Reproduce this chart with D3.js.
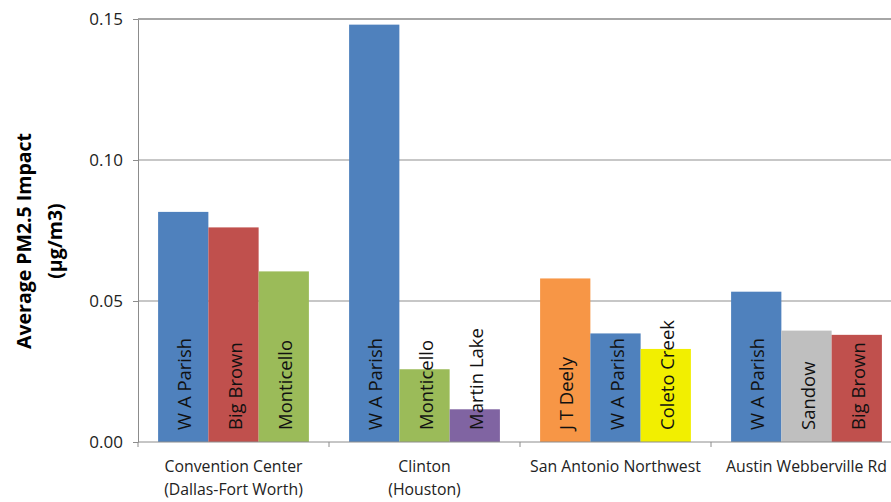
<!DOCTYPE html>
<html>
<head>
<meta charset="utf-8">
<script src="https://cdn.jsdelivr.net/npm/d3@7"></script>
<style>
  html, body { margin: 0; padding: 0; background: #fff; }
  svg { display: block; font-family: "Open Sans", sans-serif; }
</style>
</head>
<body>
<svg id="chart" width="891" height="502"></svg>
<script>
// ---- Data ----
const categories = ["Convention Center|(Dallas-Fort Worth)", "Clinton|(Houston)", "San Antonio Northwest", "Austin Webberville Rd"];
const plantsConvention = ["W A Parish", "Big Brown", "Monticello"];
const valuesConvention = [0.0816, 0.0761, 0.0605];
const plantsClinton = ["W A Parish", "Monticello", "Martin Lake"];
const valuesClinton = [0.148, 0.0258, 0.0116];
const plantsSanAntonio = ["J T Deely", "W A Parish", "Coleto Creek"];
const valuesSanAntonio = [0.058, 0.0385, 0.033];
const plantsAustin = ["W A Parish", "Sandow", "Big Brown"];
const valuesAustin = [0.0533, 0.0395, 0.038];
const yTicks = [0, 0.05, 0.10, 0.15];
const plantNames = ["W A Parish", "Big Brown", "Monticello", "Martin Lake", "J T Deely", "Coleto Creek", "Sandow"];

const groups = [
  { cat: categories[0], plants: plantsConvention, values: valuesConvention },
  { cat: categories[1], plants: plantsClinton, values: valuesClinton },
  { cat: categories[2], plants: plantsSanAntonio, values: valuesSanAntonio },
  { cat: categories[3], plants: plantsAustin, values: valuesAustin }
];

// ---- Layout ----
const svg = d3.select("#chart");
const mLeft = 138, mRight = 902, mTop = 19, mBottom = 442;

const x = d3.scaleBand().domain(categories).range([mLeft, mRight]).paddingInner(0).paddingOuter(0);
const xi = d3.scaleBand().domain([0, 1, 2]).range([0, x.bandwidth()]).paddingInner(0).paddingOuter(0.4);
const y = d3.scaleLinear().domain([0, 0.15]).range([mBottom, mTop]);
const color = d3.scaleOrdinal().domain(plantNames)
  .range(["#4f81bd", "#c0504d", "#9bbb59", "#8064a2", "#f79646", "#f2ef00", "#bfbfbf"]);

// gridlines
svg.append("g").selectAll("line").data(yTicks.filter(d => d > 0)).join("line")
  .attr("x1", mLeft).attr("x2", mRight)
  .attr("y1", d => y(d)).attr("y2", d => y(d))
  .attr("stroke", d => d === 0.15 ? "#a6a6a6" : "#b4b4b4")
  .attr("stroke-width", d => d === 0.15 ? 2 : 1.3);

// bars
const flat = [];
groups.forEach(g => g.values.forEach((v, i) => flat.push({ cat: g.cat, i, v, plant: g.plants[i] })));

svg.append("g").selectAll("rect").data(flat).join("rect")
  .attr("x", d => x(d.cat) + xi(d.i))
  .attr("width", xi.bandwidth())
  .attr("y", d => y(d.v))
  .attr("height", d => y(0) - y(d.v))
  .attr("fill", d => color(d.plant));

// bar labels
svg.append("g").selectAll("text").data(flat).join("text")
  .attr("transform", d => `translate(${x(d.cat) + xi(d.i) + xi.bandwidth() / 2 + 8},${mBottom - 12}) rotate(-90)`)
  .attr("text-anchor", "start")
  .attr("font-size", 18.5)
  .attr("fill", "#111")
  .text(d => d.plant);

// y axis
const yAxis = d3.axisLeft(y).tickValues(yTicks).tickFormat(d3.format(".2f")).tickSize(5).tickSizeOuter(0);
const yg = svg.append("g").attr("transform", `translate(${mLeft},0)`).call(yAxis);
yg.select(".domain").attr("stroke", "#8c8c8c");
yg.selectAll(".tick line").attr("stroke", "#8c8c8c");
yg.selectAll(".tick text").attr("font-size", 17).attr("fill", "#222").attr("font-family", "Open Sans, sans-serif").attr("x", -15);

// x axis
svg.append("line").attr("x1", mLeft).attr("x2", mRight).attr("y1", mBottom).attr("y2", mBottom)
  .attr("stroke", "#8c8c8c").attr("stroke-width", 1);
svg.append("g").selectAll("line").data(categories).join("line")
  .attr("x1", d => x(d)).attr("x2", d => x(d))
  .attr("y1", mBottom).attr("y2", mBottom + 5)
  .attr("stroke", "#8c8c8c");

const catText = svg.append("g").selectAll("text").data(categories).join("text")
  .attr("x", d => x(d) + x.bandwidth() / 2)
  .attr("y", 472)
  .attr("text-anchor", "middle")
  .attr("font-size", 15.8)
  .attr("fill", "#222");
catText.each(function (d) {
  const lines = d.split("|");
  d3.select(this).selectAll("tspan").data(lines).join("tspan")
    .attr("x", x(d) + x.bandwidth() / 2)
    .attr("dy", (l, i) => i === 0 ? 0 : 23)
    .text(l => l);
});

// y title
const yt = svg.append("text")
  .attr("transform", "translate(31,241) rotate(-90)")
  .attr("text-anchor", "middle")
  .attr("font-size", 19.5)
  .attr("font-weight", "bold")
  .attr("fill", "#000");
yt.append("tspan").attr("x", 0).attr("dy", 0).text("Average PM2.5 Impact");
yt.append("tspan").attr("x", 0).attr("dy", 31).text("(µg/m3)");
</script>
</body>
</html>
